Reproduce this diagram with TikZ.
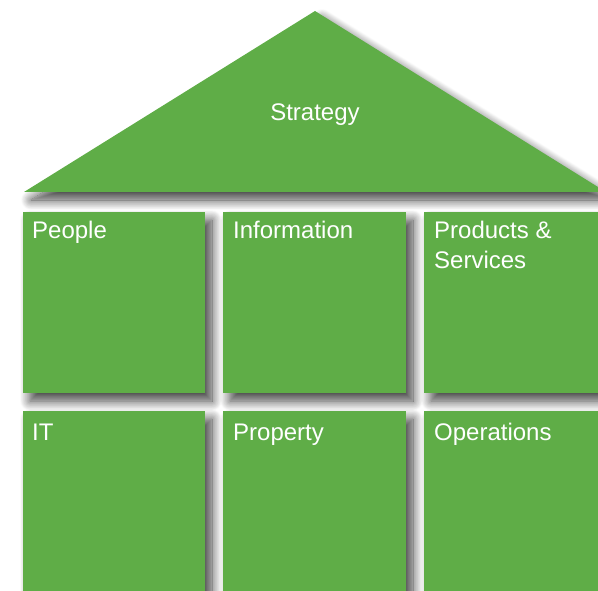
\documentclass[tikz,border=0pt]{standalone}
\usepackage{fontspec}
\setmainfont{Liberation Sans}
\usetikzlibrary{shadows.blur}
\definecolor{hgreen}{RGB}{95,173,71}
\tikzset{
  shade/.style={blur shadow={shadow xshift=7pt, shadow yshift=-8pt, shadow blur radius=10pt, shadow opacity=75, shadow blur steps=18}},
  block/.style={fill=hgreen, draw=none, shade},
  lbl/.style={text=white, font=\fontsize{24}{30}\selectfont, anchor=base west, inner sep=0pt}
}
\begin{document}
\begin{tikzpicture}[x=1pt,y=-1pt]
\useasboundingbox (0,0) rectangle (598,591);
\clip (0,0) rectangle (598,591);
\path[block] (24,192) -- (315,11) -- (606,192) -- cycle;
\path[block] (23,212) rectangle (205,393);
\path[block] (223,212) rectangle (406,393);
\path[block] (424,212) rectangle (606,393);
\path[block] (23,411) rectangle (205,593);
\path[block] (223,411) rectangle (406,593);
\path[block] (424,411) rectangle (606,593);
\node[lbl, anchor=base] (strat) at (315,121) {Strategy};
\node[lbl] (people) at (32,239) {People};
\node[lbl] (info) at (233,239) {Information};
\node[lbl] (prod) at (434,239) {\vtop{\hbox{Products \&}\hbox{Services}}};
\node[lbl] (it) at (32,440) {IT};
\node[lbl] (prop) at (233,440) {Property};
\node[lbl] (ops) at (434,440) {Operations};
\end{tikzpicture}
\end{document}
